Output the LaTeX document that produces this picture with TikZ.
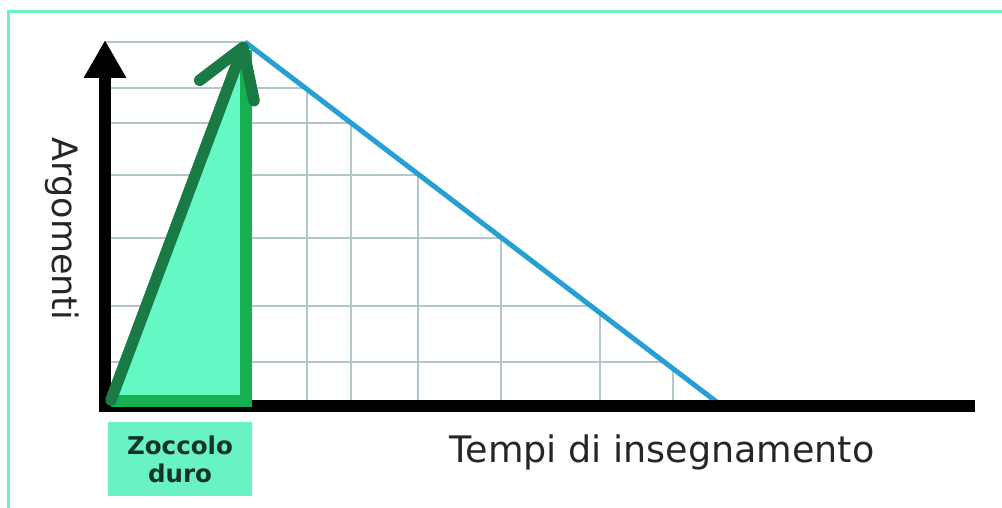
\documentclass[tikz,border=0pt]{standalone}
\usepackage{fontspec}
\setmainfont{DejaVu Sans}
\usetikzlibrary{arrows.meta}

\definecolor{mint}{RGB}{100,248,196}
\definecolor{barg}{RGB}{22,176,82}
\definecolor{darkg}{RGB}{26,122,68}
\definecolor{skyb}{RGB}{38,160,212}
\definecolor{gridc}{RGB}{178,198,204}
\definecolor{framec}{RGB}{112,238,200}
\definecolor{zbox}{RGB}{104,242,198}
\definecolor{ztext}{RGB}{18,52,36}

\begin{document}
\begin{tikzpicture}[x=1pt, y=-1pt,
  axis/.style={line width=12pt, black},
  gridline/.style={line width=1.4pt, gridc},
  bar/.style={line width=12pt, barg},
  lbl/.style={text=black!85, inner sep=0pt}]

\useasboundingbox (0,0) rectangle (1002,508);

% ---- frame ----------------------------------------------------------------
\draw[framec, line width=3pt] (8,508) -- (8,12) -- (1002,12);

\coordinate (o) at (105,406);
\coordinate (peak) at (245,42);
\coordinate (zero) at (722,406);

% ---- grid under the line ---------------------------------------------------
\begin{scope}
  \clip (105,40) -- (245,40) -- (zero) -- (o) -- cycle;
  \foreach \y in {42,88,123,175,238,306,362}
    \draw[gridline] (105,\y) -- (760,\y);
  \foreach \x in {307,351,418,501,600,673}
    \draw[gridline] (\x,40) -- (\x,406);
\end{scope}

% ---- zoccolo duro ----------------------------------------------------------
\fill[mint] (o) -- (peak) -- (245,406) -- cycle;
\draw[skyb, line width=5pt] (peak) -- (zero);
\draw[axis] (99,406) -- (975,406);
\draw[bar] (105,401) -- (252,401);
\draw[bar] (246,407) -- (246,50);
\draw[axis, -{Triangle[length=38pt, width=40pt]}] (105,412) -- (105,40);
\draw[darkg, line width=11.5pt, line cap=round,
  -{Straight Barb[length=46pt, width=58pt, round]}] (111,400) -- (peak);

% ---- labels ----------------------------------------------------------------
\node[lbl, rotate=-90, font=\fontsize{35}{40}\selectfont] (yl) at (62,229)
  {Argomenti};
\node[lbl, anchor=base, font=\fontsize{36.5}{42}\selectfont] (xl) at (662,462)
  {Tempi di insegnamento};
\node[fill=zbox, minimum width=144pt, minimum height=74pt, align=center,
  text=ztext, font=\fontsize{24.5}{28}\selectfont\bfseries] (zd) at (180,459)
  {Zoccolo\\duro};

\end{tikzpicture}
\end{document}
